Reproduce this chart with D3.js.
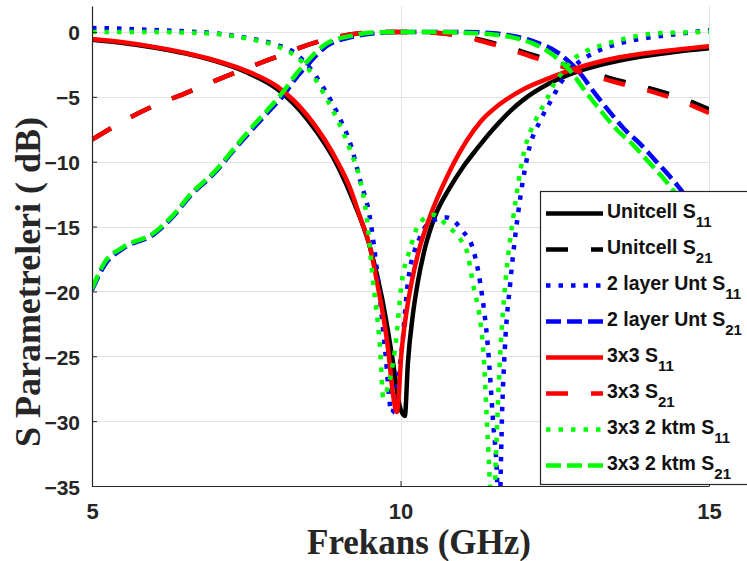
<!DOCTYPE html>
<html><head><meta charset="utf-8">
<script src="https://cdn.jsdelivr.net/npm/d3@7"></script>
<style>body{margin:0;background:#fff;} svg{display:block;}</style>
</head><body>
<svg id="c" width="747" height="561"></svg>
<script>
// ---- data ----
const xTicks = [5, 10, 15];
const yTicks = [-35, -30, -25, -20, -15, -10, -5, 0];

const unitS11F = [5, 5.5, 6, 6.5, 7, 7.5, 8, 8.5, 9, 9.25, 9.5, 9.7, 9.88, 9.98, 10.07, 10.12, 10.2, 10.28, 10.4, 10.56, 10.8, 11.0, 11.24, 11.5, 11.8, 12.0, 12.4, 12.75, 13.2, 13.9, 14.5, 15];
const unitS11V = [-0.6, -0.85, -1.2, -1.65, -2.25, -3.1, -4.4, -6.8, -10.5, -13.2, -16.5, -20.5, -25.5, -28.7, -29.6, -25.5, -21.8, -19.3, -16.6, -14.2, -12.0, -10.5, -9.0, -7.5, -6.0, -5.2, -4.0, -3.25, -2.6, -1.9, -1.5, -1.25];

const unitS21F = [5, 5.5, 6, 6.5, 7, 7.5, 8, 8.5, 9, 9.5, 10, 10.5, 11, 11.5, 12, 12.5, 13, 13.5, 14, 14.5, 15];
const unitS21V = [-8.3, -6.9, -5.7, -4.75, -3.75, -2.8, -1.9, -1.0, -0.35, -0.05, 0, -0.05, -0.3, -0.85, -1.55, -2.3, -3.0, -3.7, -4.3, -5.0, -5.95];

const layerS11F = [5, 5.5, 6, 6.5, 7, 7.5, 8, 8.25, 8.5, 8.75, 9, 9.2, 9.35, 9.5, 9.64, 9.75, 9.86, 9.95, 10.02, 10.12, 10.3, 10.5, 10.75, 11.0, 11.18, 11.29, 11.42, 11.5, 11.57, 11.6, 11.62, 11.645, 11.69, 11.78, 11.9, 12.07, 12.28, 12.45, 12.6, 12.75, 12.9, 13.1, 13.5, 14, 14.5, 15];
const layerS11V = [0.3, 0.25, 0.15, 0.05, -0.1, -0.45, -1.0, -1.5, -2.6, -4.3, -6.5, -8.8, -11.5, -14.2, -19.3, -24.5, -29.4, -27, -24.5, -19.3, -16, -14.6, -14.3, -15.3, -16.8, -19.3, -24.5, -30, -35, -40, -35, -29.7, -24.5, -19.3, -14.2, -9.3, -6.7, -5.2, -3.9, -3.0, -2.3, -1.7, -0.95, -0.45, -0.15, 0.15];

const layerS21F = [5, 5.2, 5.5, 6, 6.3, 6.6, 7.0, 7.3, 7.6, 7.85, 8.1, 8.3, 8.5, 8.8, 9.2, 9.6, 10, 10.5, 11, 11.5, 11.8, 12.0, 12.2, 12.55, 12.73, 12.88, 13.13, 13.38, 13.63, 13.9, 14.13, 14.5, 14.83, 15];
const layerS21V = [-19.9, -18, -16.7, -15.6, -14.3, -12.6, -10.8, -9.1, -7.5, -6.2, -4.9, -3.6, -2.5, -1.1, -0.4, -0.1, 0, 0, 0, -0.1, -0.3, -0.5, -0.8, -1.6, -2.3, -3.0, -4.6, -6.1, -7.5, -8.7, -9.9, -11.9, -14.0, -15.0];

const s3x3S11F = [5, 5.5, 6, 6.5, 7, 7.5, 8, 8.5, 9, 9.18, 9.34, 9.5, 9.62, 9.8, 9.88, 9.94, 10.02, 10.1, 10.18, 10.3, 10.48, 10.75, 11.07, 11.3, 11.6, 12.0, 12.39, 12.75, 13.3, 13.88, 14.5, 15];
const s3x3S11V = [-0.55, -0.8, -1.15, -1.6, -2.2, -3.0, -4.2, -6.5, -10.2, -12.0, -14.2, -16.5, -19.3, -24.5, -28.0, -29.3, -24.5, -21.5, -19.3, -16.8, -14.2, -11.2, -8.4, -6.9, -5.6, -4.4, -3.6, -2.95, -2.2, -1.7, -1.35, -1.1];

const s3x3S21F = [5, 5.5, 6, 6.5, 7, 7.5, 8, 8.5, 9, 9.5, 10, 10.5, 11, 11.5, 12, 12.5, 13, 13.5, 14, 14.5, 15];
const s3x3S21V = [-8.3, -6.9, -5.7, -4.75, -3.75, -2.8, -1.9, -1.0, -0.35, -0.05, 0, -0.05, -0.35, -0.95, -1.7, -2.5, -3.2, -3.9, -4.5, -5.25, -6.25];

const ktmS11F = [5, 5.5, 6, 6.5, 7, 7.5, 8, 8.25, 8.5, 8.75, 9, 9.2, 9.35, 9.45, 9.55, 9.67, 9.72, 9.8, 9.91, 10.02, 10.15, 10.3, 10.53, 10.75, 11.0, 11.07, 11.17, 11.34, 11.4, 11.45, 11.49, 11.53, 11.57, 11.62, 11.70, 11.83, 12.0, 12.2, 12.37, 12.5, 12.63, 12.8, 13.0, 13.35, 13.7, 14.05, 14.5, 15];
const ktmS11V = [0, 0, 0, -0.05, -0.15, -0.5, -1.1, -1.7, -2.8, -4.7, -7.0, -9.3, -11.5, -14.2, -19.0, -24.5, -28.2, -27.3, -24.5, -19.3, -16.8, -14.8, -14.1, -14.9, -16.2, -16.8, -19.3, -24.5, -30, -35, -40, -35, -29.7, -24.5, -19.3, -14.2, -9.3, -6.7, -5.2, -3.9, -3.1, -2.1, -1.5, -0.9, -0.45, -0.15, -0.05, 0];

const ktmS21F = [5, 5.2, 5.5, 6, 6.3, 6.6, 7.0, 7.3, 7.6, 7.85, 8.1, 8.3, 8.5, 8.8, 9.2, 9.55, 10, 10.5, 11, 11.5, 11.8, 12.0, 12.15, 12.42, 12.6, 12.75, 13.0, 13.25, 13.5, 13.77, 14.0, 14.37, 14.7, 15];
const ktmS21V = [-19.8, -17.8, -16.6, -15.5, -14.2, -12.5, -10.7, -9.0, -7.3, -6.0, -4.6, -3.3, -2.2, -0.9, -0.3, -0.05, 0, 0, -0.05, -0.2, -0.4, -0.65, -0.9, -1.6, -2.3, -3.0, -4.6, -6.1, -7.5, -8.7, -9.9, -11.9, -14.0, -16.0];

const seriesNames = ["Unitcell S", "Unitcell S", "2 layer Unt S", "2 layer Unt S", "3x3 S", "3x3 S", "3x3 2 ktm S", "3x3 2 ktm S"];
const seriesSubs = ["11", "21", "11", "21", "11", "21", "11", "21"];
const seriesColors = ["#000000", "#000000", "#0000ff", "#0000ff", "#ff0000", "#ff0000", "#00ff00", "#00ff00"];
const seriesStyles = ["solid", "longdash", "dot", "dash", "solid", "longdash", "dot", "dash"];

// ---- build ----
const seriesData = [
  [unitS11F, unitS11V], [unitS21F, unitS21V], [layerS11F, layerS11V], [layerS21F, layerS21V],
  [s3x3S11F, s3x3S11V], [s3x3S21F, s3x3S21V], [ktmS11F, ktmS11V], [ktmS21F, ktmS21V]
].map(([f, v]) => f.map((d, i) => ({f: d, v: v[i]})));

const styleMap = {
  solid: {w: 4.5, dash: null},
  longdash: {w: 4.5, dash: "22,23"},
  dot: {w: 4.5, dash: "4.5,8"},
  dash: {w: 4.5, dash: "15,6"}
};

const L = 92, R = 709, T = 6, B = 486;
const x = d3.scaleLinear().domain([5, 15]).range([L, R]);
const y = d3.scaleLinear().domain([-35, 2]).range([B, T]);

const svg = d3.select("#c");
const tickFont = "'Liberation Sans', Arial, sans-serif";
const labelFont = "'Liberation Serif', 'Times New Roman', serif";

// grid
const grid = svg.append("g").attr("stroke", "#e3e3e3").attr("stroke-width", 1);
grid.selectAll("line.v").data(xTicks).join("line")
  .attr("x1", d => Math.round(x(d)) + 0.5).attr("x2", d => Math.round(x(d)) + 0.5)
  .attr("y1", T).attr("y2", B);
grid.selectAll("line.h").data(yTicks).join("line")
  .attr("x1", L).attr("x2", R)
  .attr("y1", d => Math.round(y(d)) + 0.5).attr("y2", d => Math.round(y(d)) + 0.5);

// clip
svg.append("clipPath").attr("id", "plotclip").append("rect")
  .attr("x", L).attr("y", T).attr("width", R - L).attr("height", B - T);

const line = d3.line().x(d => x(d.f)).y(d => y(d.v)).curve(d3.curveMonotoneX);
const lines = svg.append("g").attr("clip-path", "url(#plotclip)");
seriesData.forEach((data, i) => {
  const st = styleMap[seriesStyles[i]];
  lines.append("path").datum(data)
    .attr("d", line)
    .attr("fill", "none")
    .attr("stroke", seriesColors[i])
    .attr("stroke-width", st.w)
    .attr("stroke-dasharray", st.dash)
    .attr("stroke-linejoin", "round");
});

// axes
const xAxis = svg.append("g").attr("transform", `translate(0,${B})`)
  .call(d3.axisBottom(x).tickValues(xTicks).tickSizeInner(-5).tickSizeOuter(0).tickFormat(d3.format("d")));
xAxis.selectAll("text").attr("y", 33).attr("dy", 0)
  .style("font-family", tickFont).style("font-weight", "bold").style("font-size", "22px").attr("fill", "#262626");

const yAxis = svg.append("g").attr("transform", `translate(${L},0)`)
  .call(d3.axisLeft(y).tickValues(yTicks).tickSizeInner(-5).tickSizeOuter(0).tickFormat(d3.format("d")));
yAxis.selectAll("text").attr("x", -12).attr("dy", 0).attr("y", 8)
  .style("font-family", tickFont).style("font-weight", "bold").style("font-size", "21px").attr("fill", "#262626");

[xAxis, yAxis].forEach(a => {
  a.select(".domain").attr("stroke", "#262626").attr("stroke-width", 1.2);
  a.selectAll(".tick line").attr("stroke", "#262626");
});

// axis labels
svg.append("text")
  .attr("x", 419).attr("y", 554).attr("text-anchor", "middle")
  .style("font-family", labelFont).style("font-weight", "bold").style("font-size", "35px")
  .attr("fill", "#262626")
  .text("Frekans (GHz)");
svg.append("text")
  .attr("transform", "translate(40,282) rotate(-90)").attr("text-anchor", "middle")
  .style("font-family", labelFont).style("font-weight", "bold").style("font-size", "36px")
  .attr("fill", "#262626")
  .text("S Parametreleri ( dB)");

// legend
const lg = svg.append("g");
lg.append("rect").attr("x", 540.5).attr("y", 191.5).attr("width", 240).attr("height", 293)
  .attr("fill", "#fff").attr("stroke", "#262626").attr("stroke-width", 1.2);
seriesNames.forEach((name, i) => {
  const cy = 213.5 + i * 36;
  const st = styleMap[seriesStyles[i]];
  lg.append("line").attr("x1", 546).attr("x2", 603).attr("y1", cy).attr("y2", cy)
    .attr("stroke", seriesColors[i]).attr("stroke-width", st.w)
    .attr("stroke-dasharray", st.dash);
  const t = lg.append("text").attr("x", 607).attr("y", cy + 4)
    .style("font-family", tickFont).style("font-weight", "bold").style("font-size", "19.5px")
    .attr("fill", "#111");
  t.append("tspan").text(name);
  t.append("tspan").attr("dy", 9).style("font-size", "15px").text(seriesSubs[i]);
});
</script>
</body></html>
